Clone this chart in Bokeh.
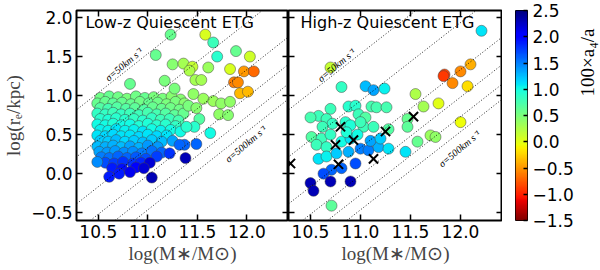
import numpy as np
from bokeh.plotting import figure
from bokeh.layouts import row
from bokeh.models import (ColumnDataSource, LinearColorMapper, FixedTicker,
                          LinearAxis, Slope, Label, Range1d, CustomJSTickFormatter)
from bokeh.embed import file_html
from bokeh.resources import INLINE

# ---------------- data ----------------
x_ticks = [10.5, 11.0, 11.5, 12.0]
y_ticks = [-0.5, 0.0, 0.5, 1.0, 1.5, 2.0]
cbar_ticks = [-1.5, -1.0, -0.5, 0.0, 0.5, 1.0, 1.5, 2.0, 2.5]
cbar_low, cbar_high = -1.5, 2.5
sigma_values = [50, 100, 200, 300, 400, 500]   # km/s
G_KPC = 4.302e-6   # kpc (km/s)^2 / Msun
K_VIR = 5.0

# low-z: dense main cloud
low_cloud_mass = [
    10.52, 10.61, 10.70, 10.79, 10.88, 10.97, 11.06, 11.15, 11.24, 11.33,
    10.49, 10.57, 10.65, 10.74, 10.83, 10.92, 11.01, 11.10, 11.19, 11.28, 11.37,
    10.52, 10.60, 10.69, 10.78, 10.87, 10.96, 11.05, 11.14, 11.23, 11.32,
    10.49, 10.57, 10.65, 10.73, 10.82, 10.91, 11.00, 11.09, 11.18, 11.27, 11.36,
    10.52, 10.60, 10.68, 10.77, 10.86, 10.95, 11.04, 11.13, 11.22, 11.31,
    10.49, 10.57, 10.65, 10.73, 10.82, 10.91, 11.00, 11.09, 11.18, 11.28,
    10.52, 10.60, 10.68, 10.77, 10.86, 10.95, 11.04, 11.13, 11.23, 11.33,
    10.49, 10.57, 10.65, 10.73, 10.82, 10.91, 11.00, 11.09, 11.19,
    10.52, 10.60, 10.68, 10.77, 10.86, 10.95, 11.04, 11.14, 11.25,
    10.49, 10.57, 10.65, 10.73, 10.82, 10.91, 11.00, 11.10,
    10.51, 10.59, 10.67, 10.76, 10.85, 10.94, 11.04, 11.14,
    10.53, 10.61, 10.70, 10.79, 10.88, 10.98, 11.09,
    10.57, 10.66, 10.75, 10.85, 10.93,
    10.64, 10.74, 10.88, 10.49,
]
low_cloud_re = [
    0.97, 0.99, 0.98, 0.96, 0.99, 0.97, 0.98, 0.96, 0.99, 0.95,
    0.90, 0.92, 0.90, 0.91, 0.89, 0.92, 0.90, 0.91, 0.89, 0.92, 0.90,
    0.84, 0.83, 0.85, 0.83, 0.84, 0.82, 0.85, 0.83, 0.84, 0.82,
    0.77, 0.76, 0.78, 0.76, 0.77, 0.75, 0.78, 0.76, 0.77, 0.75, 0.77,
    0.70, 0.69, 0.71, 0.69, 0.70, 0.68, 0.71, 0.69, 0.70, 0.68,
    0.63, 0.62, 0.64, 0.62, 0.63, 0.61, 0.64, 0.62, 0.63, 0.61,
    0.56, 0.55, 0.57, 0.55, 0.56, 0.54, 0.57, 0.55, 0.56, 0.54,
    0.49, 0.48, 0.50, 0.48, 0.49, 0.47, 0.50, 0.48, 0.49,
    0.42, 0.41, 0.43, 0.41, 0.42, 0.40, 0.43, 0.41, 0.42,
    0.35, 0.34, 0.36, 0.34, 0.35, 0.33, 0.36, 0.34,
    0.28, 0.27, 0.29, 0.27, 0.28, 0.26, 0.29, 0.27,
    0.21, 0.20, 0.22, 0.20, 0.21, 0.19, 0.22,
    0.14, 0.13, 0.15, 0.13, 0.14,
    0.07, 0.06, 0.08, 0.15,
]
low_cloud_a4 = [
    0.55, 0.60, 0.55, 0.50, 0.55, 0.60, 0.50, 0.50, 0.45, 0.45,
    0.60, 0.60, 0.65, 0.60, 0.60, 0.55, 0.60, 0.55, 0.50, 0.50, 0.45,
    0.70, 0.75, 0.70, 0.70, 0.65, 0.70, 0.60, 0.60, 0.55, 0.55,
    0.85, 0.85, 0.80, 0.85, 0.80, 0.80, 0.75, 0.75, 0.70, 0.65, 0.60,
    0.90, 0.95, 0.90, 0.90, 0.85, 0.90, 0.85, 0.80, 0.80, 0.75,
    1.00, 1.00, 0.95, 1.00, 1.00, 0.95, 0.95, 0.90, 0.90, 0.85,
    1.05, 1.05, 1.10, 1.05, 1.05, 1.10, 1.00, 1.05, 1.00, 1.00,
    1.10, 1.15, 1.15, 1.10, 1.10, 1.15, 1.10, 1.15, 1.10,
    1.20, 1.20, 1.25, 1.15, 1.20, 1.25, 1.20, 1.25, 1.35,
    1.25, 1.30, 1.30, 1.25, 1.35, 1.30, 1.40, 1.40,
    1.35, 1.40, 1.40, 1.45, 1.45, 1.50, 1.55, 1.60,
    1.50, 1.55, 1.60, 1.60, 1.65, 1.70, 1.75,
    1.70, 1.75, 1.80, 1.80, 1.85,
    1.90, 1.95, 2.00, 1.45,
]
# low-z: sparse points around the cloud
low_mass = [11.23, 11.58, 11.66, 11.08, 11.70, 11.89, 12.03, 11.25, 11.36, 11.45,
            11.42, 11.61, 11.83, 11.97, 12.07, 11.87, 11.91, 11.93, 12.01, 10.82,
            11.17, 11.48, 11.54, 11.27, 11.46, 11.56, 11.66, 11.74, 11.83, 11.41,
            11.49, 11.72, 11.81, 11.63, 11.52, 11.47, 11.39, 11.49, 11.37, 11.38,
            11.04, 10.61, 10.71, 10.82, 11.02, 10.96, 11.22, 11.32]
low_re = [1.78, 1.78, 1.68, 1.52, 1.50, 1.57, 1.50, 1.40, 1.41, 1.37,
          1.32, 1.36, 1.34, 1.31, 1.31, 1.17, 1.17, 1.03, 1.05, 1.15,
          1.19, 1.20, 1.20, 1.09, 1.02, 0.96, 0.93, 0.90, 0.92, 0.87,
          0.84, 0.76, 0.75, 0.52, 0.70, 0.60, 0.60, 0.38, 0.37, 0.20,
          -0.05, -0.04, 0.00, 0.02, 0.14, 0.07, 0.26, 0.37]
low_a4 = [0.60, 0.05, 0.80, 0.60, 0.90, 0.60, 0.10, 0.45, 0.30, 0.15,
          0.25, 0.35, 0.05, -0.50, -0.70, -0.60, -0.55, -0.35, -0.35, 0.60,
          0.50, 0.30, 0.30, 0.50, 0.40, 0.35, 0.35, 0.40, 0.40, 0.50,
          0.45, 0.40, 0.45, 1.00, 0.70, 0.90, 0.90, 1.60, 1.60, 2.30,
          2.30, 1.90, 1.90, 2.10, 2.20, 2.20, 1.80, 1.60]

# high-z
high_mass = [10.70, 10.81, 11.05, 11.13, 11.24, 10.70, 10.88, 10.95, 11.11, 11.16,
             11.26, 10.58, 10.50, 10.66, 10.72, 10.62, 10.85, 10.90, 10.98, 11.05,
             11.03, 11.13, 11.28, 11.00, 10.51, 10.61, 10.56, 10.66, 10.70, 10.81,
             10.90, 10.86, 10.97, 11.00, 11.08, 11.18, 11.28, 11.10, 11.20, 10.58,
             10.66, 10.76, 10.88, 10.71, 10.81, 10.95, 10.63, 10.50, 10.53, 10.70,
             10.90, 10.71, 11.45, 11.57, 11.70, 11.75, 11.47, 11.47, 12.00, 12.21,
             12.10, 12.00, 11.84, 11.83, 11.92, 12.07, 11.55, 11.78, 11.63]
high_re = [1.36, 1.11, 1.12, 1.07, 1.09, 0.83, 0.86, 0.87, 0.86, 0.85,
           0.85, 0.74, 0.72, 0.70, 0.64, 0.60, 0.66, 0.62, 0.76, 0.72,
           0.60, 0.60, 0.57, 0.66, 0.47, 0.45, 0.37, 0.34, 0.50, 0.41,
           0.45, 0.53, 0.50, 0.32, 0.30, 0.34, 0.32, 0.42, 0.45, 0.19,
           0.22, 0.26, 0.28, 0.05, 0.07, 0.13, 0.00, -0.12, -0.22, -0.10,
           -0.10, -0.41, 0.28, 0.41, 0.49, 0.47, 0.70, 0.60, 0.66, 1.83,
           1.40, 1.31, 1.27, 1.25, 1.16, 1.12, 1.02, 0.90, 0.86]
high_a4 = [0.15, 0.85, 1.25, 1.35, 1.05, 0.80, 0.90, 0.90, 0.75, 0.75,
           0.75, 0.80, 0.75, 0.80, 0.85, 0.80, 0.90, 0.95, 0.80, 0.70,
           0.80, 0.80, 0.70, 0.80, 0.70, 0.80, 0.80, 0.85, 0.85, 1.00,
           1.10, 0.95, 1.00, 1.50, 1.50, 1.30, 1.10, 1.35, 1.20, 1.10,
           1.05, 1.20, 1.30, 1.60, 1.60, 1.70, 1.70, 2.30, 2.30, 2.30,
           2.30, 0.65, 1.10, 0.60, 0.35, 0.40, 0.60, 0.65, -0.05, 1.10,
           -0.40, -0.55, -0.85, -0.90, -0.55, -0.20, 0.25, 0.00, 0.30]
# high-z objects marked with crosses
cross_mass = [10.80, 11.25, 10.75, 10.93, 11.13, 10.78, 10.30, 11.53]
cross_re = [0.60, 0.54, 0.37, 0.43, 0.19, 0.12, 0.13, 0.73]

# ---------------- colormap (jet, reversed: high = blue) ----------------
_R = ([0, 0.35, 0.66, 0.89, 1], [0, 0, 1, 1, 0.5])
_G = ([0, 0.125, 0.375, 0.64, 0.91, 1], [0, 0, 1, 1, 0, 0])
_B = ([0, 0.11, 0.34, 0.65, 1], [0.5, 1, 1, 0, 0])


def jet_hex(t):
    r = float(np.interp(t, *_R)); g = float(np.interp(t, *_G)); b = float(np.interp(t, *_B))
    return "#%02x%02x%02x" % (int(round(r * 255)), int(round(g * 255)), int(round(b * 255)))


palette = [jet_hex(1 - i / 255) for i in range(256)]
mapper = LinearColorMapper(palette=palette, low=cbar_low, high=cbar_high)

FMT_CODE = "return tick.toFixed(1).replace('-', '\\u2212');"
XR = (10.28, 12.42)
YR = (-0.6, 2.09)
H = 268
TICK_FONT = "DejaVu Sans"
LABEL_FONT = "Liberation Serif"


def style_axis(ax, ticks, show, tick_in=6):
    ax.ticker = FixedTicker(ticks=ticks)
    ax.major_tick_in = tick_in
    ax.major_tick_out = 0
    ax.minor_tick_line_color = None
    ax.major_tick_line_width = 1.5
    ax.major_tick_line_color = "black"
    ax.axis_line_color = None
    if show:
        ax.formatter = CustomJSTickFormatter(code=FMT_CODE)
        ax.major_label_text_font = TICK_FONT
        ax.major_label_text_font_size = "17px"
        ax.major_label_text_color = "black"
        ax.major_label_standoff = 4
    else:
        ax.major_label_text_font_size = "1px"
        ax.major_label_text_color = None
        ax.major_label_standoff = 0


def make_panel(width, mb_left, show_y):
    p = figure(width=width, height=H, x_range=Range1d(*XR), y_range=Range1d(*YR),
               output_backend="svg", toolbar_location=None,
               min_border_left=mb_left, min_border_right=0,
               min_border_top=6, min_border_bottom=48)
    p.outline_line_color = "black"
    p.outline_line_width = 2
    p.grid.visible = False
    bottom = p.below[0]
    left = p.left[0]
    style_axis(bottom, x_ticks, True)
    style_axis(left, y_ticks, show_y)
    bottom.axis_label = "log(M\u2217/M\u2299)"
    bottom.axis_label_text_font = LABEL_FONT
    bottom.axis_label_text_font_size = "19px"
    bottom.axis_label_text_font_style = "normal"
    bottom.axis_label_standoff = 2
    top = LinearAxis()
    style_axis(top, x_ticks, False)
    p.add_layout(top, "above")
    right = LinearAxis()
    style_axis(right, y_ticks, False)
    p.add_layout(right, "right")
    for s in sigma_values:
        p.add_layout(Slope(gradient=1, y_intercept=-2 * np.log10(s) + np.log10(G_KPC / K_VIR),
                           line_color="black", line_dash="1 2", line_width=1, line_alpha=0.85))
    return p


def sigma_labels(p, y50, y500):
    p.add_layout(Label(x=10.76, y=y50, text="\u03c3=50km s\u207b\u00b9", angle=40, angle_units="deg",
                       text_align="center", text_baseline="middle", text_font=LABEL_FONT,
                       text_font_style="italic", text_font_size="10px", text_color="black"))
    p.add_layout(Label(x=11.99, y=y500, text="\u03c3=500km s\u207b\u00b9", angle=40, angle_units="deg",
                       text_align="center", text_baseline="middle", text_font=LABEL_FONT,
                       text_font_style="italic", text_font_size="10px", text_color="black"))


# ---------------- left panel ----------------
p1 = make_panel(288, 73, True)
ylab = p1.left[0]
ylab.axis_label = "log(r\u2091/kpc)"
ylab.axis_label_text_font = LABEL_FONT
ylab.axis_label_text_font_size = "19px"
ylab.axis_label_text_font_style = "normal"
ylab.axis_label_standoff = 4
sigma_labels(p1, 1.40, 0.38)

src_cloud = ColumnDataSource(dict(x=low_cloud_mass, y=low_cloud_re, c=low_cloud_a4))
src_low = ColumnDataSource(dict(x=low_mass, y=low_re, c=low_a4))
for src in (src_cloud, src_low):
    p1.scatter("x", "y", source=src, size=11, fill_color={"field": "c", "transform": mapper},
               line_color="#444444", line_width=0.5)
p1.add_layout(Label(x=10.37, y=2.055, text="Low-z Quiescent ETG", text_baseline="top",
                    text_font=TICK_FONT, text_font_size="16px", text_color="black"))

# ---------------- right panel ----------------
p2 = make_panel(214, 0, False)
sigma_labels(p2, 1.39, 0.32)
src_high = ColumnDataSource(dict(x=high_mass, y=high_re, c=high_a4))
p2.scatter("x", "y", source=src_high, size=11, fill_color={"field": "c", "transform": mapper},
           line_color="#444444", line_width=0.5)
src_cross = ColumnDataSource(dict(x=cross_mass, y=cross_re))
p2.scatter("x", "y", source=src_cross, marker="x", size=13, line_color="black", line_width=2)
p2.add_layout(Label(x=10.40, y=2.055, text="High-z Quiescent ETG", text_baseline="top",
                    text_font=TICK_FONT, text_font_size="16px", text_color="black"))

# ---------------- colour bar (its own small figure) ----------------
p3 = figure(width=74, height=H, x_range=Range1d(0, 1), y_range=Range1d(cbar_low, cbar_high),
            output_backend="svg", toolbar_location=None,
            x_axis_location=None, y_axis_location="right",
            min_border_left=13, min_border_right=47, min_border_top=10, min_border_bottom=47)
p3.outline_line_color = "black"
p3.outline_line_width = 1
p3.grid.visible = False
gradient = np.linspace(cbar_low, cbar_high, 256).reshape(256, 1)
p3.image(image=[gradient], x=0, y=cbar_low, dw=1, dh=cbar_high - cbar_low, color_mapper=mapper)
style_axis(p3.right[0], cbar_ticks, True, tick_in=4)
p3.right[0].major_label_standoff = 5

p4 = figure(width=24, height=H, x_range=Range1d(0, 1), y_range=Range1d(0, 1),
            output_backend="svg", toolbar_location=None,
            x_axis_location=None, y_axis_location=None,
            min_border_left=0, min_border_right=0, min_border_top=0, min_border_bottom=0)
p4.outline_line_color = None
p4.grid.visible = False
p4.add_layout(Label(x=11, y=158, x_units="screen", y_units="screen", angle=90, angle_units="deg",
                    text="100\u00d7a\u2084/a", text_align="center", text_baseline="middle",
                    text_font=LABEL_FONT, text_font_size="19px", text_color="black"))

layout = row(p1, p2, p3, p4)
open("out.html", "w").write(file_html(layout, INLINE))
